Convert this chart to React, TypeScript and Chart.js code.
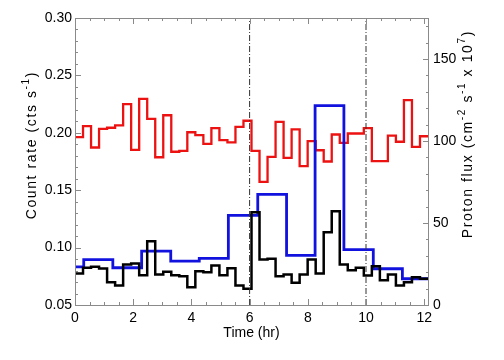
import React, { useEffect, useRef } from 'react';
import { Chart, registerables } from 'chart.js';

Chart.register(...registerables);

// ---- data ----
const X_MAX = 12.13; // hours shown on the time axis
const N_BINS = 44;
const BIN_HR = X_MAX / N_BINS; // uniform bin width of the count-rate light curves

const RED_RATE = [
  0.1962, 0.2058, 0.1872, 0.2035, 0.2044, 0.2064, 0.2249, 0.1852, 0.2296, 0.2122,
  0.1787, 0.2153, 0.1835, 0.1843, 0.2005, 0.1979, 0.1904, 0.2040, 0.1936, 0.1916,
  0.2052, 0.2105, 0.1843, 0.1573, 0.1791, 0.2096, 0.1782, 0.2029, 0.1709, 0.1927,
  0.1848, 0.1750, 0.1985, 0.1913, 0.1994, 0.1994, 0.2040, 0.1753, 0.1753, 0.1976,
  0.1922, 0.2284, 0.1878, 0.1970,
];

const BLACK_RATE = [
  0.0774, 0.0824, 0.0833, 0.0818, 0.0699, 0.0670, 0.0853, 0.0861, 0.0760, 0.1056,
  0.0766, 0.0789, 0.0760, 0.0751, 0.0655, 0.0794, 0.0786, 0.0844, 0.0760, 0.0821,
  0.0670, 0.0641, 0.1308, 0.0896, 0.0902, 0.0751, 0.0766, 0.0693, 0.0766, 0.0896,
  0.0774, 0.1134, 0.1317, 0.0853, 0.0803, 0.0824, 0.0757, 0.0838, 0.0716, 0.0766,
  0.0670, 0.0699, 0.0742, 0.0728,
];

const BLUE_EDGES = [0, 0.30, 1.30, 2.29, 3.29, 4.27, 5.27, 6.28, 7.27, 8.25, 9.24, 10.25, 11.25, 12.13];
const BLUE_FLUX = [23.3, 27.7, 22.7, 32.8, 26.7, 28.4, 54.6, 67.4, 30.2, 121.6, 33.8, 22.1, 16.0];

const MARK_TIMES = [6, 10];

const TIME_TICKS = [0, 2, 4, 6, 8, 10, 12];
const RATE_TICKS = [0.05, 0.10, 0.15, 0.20, 0.25, 0.30];
const FLUX_TICKS = [0, 50, 100, 150];

const RATE_MIN = 0.05;
const RATE_MAX = 0.30;
const FLUX_MIN = 0;
const FLUX_MAX = 175;

type Seg = { t: string; sup?: boolean };
const TIME_TITLE: Seg[] = [{ t: 'Time (hr)' }];
const RATE_TITLE: Seg[] = [{ t: 'Count rate (cts s' }, { t: '-1', sup: true }, { t: ')' }];
const FLUX_TITLE: Seg[] = [
  { t: 'Proton flux (cm' }, { t: '-2', sup: true }, { t: ' s' }, { t: '-1', sup: true },
  { t: ' x 10' }, { t: '7', sup: true }, { t: ')' },
];

// ---- styles ----
const FONT_FAMILY = '"Liberation Sans", Arial, Helvetica, sans-serif';
const AXIS_COLOR = '#8a8a8a';
const RED = 'rgb(236,18,18)';
const BLUE = 'rgb(18,18,222)';
const BLACK = '#000000';

const binSteps = (vals: number[]) => {
  const pts = vals.map((v, i) => ({ x: i * BIN_HR, y: v }));
  pts.push({ x: vals.length * BIN_HR, y: vals[vals.length - 1] });
  return pts;
};

const edgeSteps = (edges: number[], vals: number[]) => {
  const pts = vals.map((v, i) => ({ x: edges[i], y: v }));
  pts.push({ x: edges[edges.length - 1], y: vals[vals.length - 1] });
  return pts;
};

function drawRich(
  ctx: CanvasRenderingContext2D,
  segs: Seg[],
  cx: number,
  cy: number,
  rot: number,
  size: number,
  spacing: number
) {
  ctx.save();
  ctx.translate(cx, cy);
  ctx.rotate(rot);
  ctx.textAlign = 'left';
  ctx.textBaseline = 'middle';
  ctx.fillStyle = '#000';
  const supSize = Math.round(size * 0.68);
  const fontFor = (s: Seg) => `${s.sup ? supSize : size}px ${FONT_FAMILY}`;
  let total = 0;
  const items: { ch: string; w: number; seg: Seg }[] = [];
  segs.forEach((s) => {
    ctx.font = fontFor(s);
    if (spacing === 0) {
      const w = ctx.measureText(s.t).width;
      items.push({ ch: s.t, w, seg: s });
      total += w;
    } else {
      for (const ch of s.t) {
        const w = ctx.measureText(ch).width + spacing;
        items.push({ ch, w, seg: s });
        total += w;
      }
    }
  });
  if (spacing) total -= spacing;
  let x = -total / 2;
  items.forEach((it) => {
    ctx.font = fontFor(it.seg);
    ctx.fillText(it.ch, x, it.seg.sup ? -size * 0.4 : 0);
    x += it.w;
  });
  ctx.restore();
}

const idlAxes = {
  id: 'idlAxes',
  afterDraw(chart: any) {
    const { ctx, chartArea: a, scales } = chart;
    const xs = scales.x;
    const ys = scales.y;
    const y1 = scales.y1;
    ctx.save();
    ctx.strokeStyle = AXIS_COLOR;
    ctx.lineWidth = 1;
    ctx.strokeRect(a.left + 0.5, a.top + 0.5, a.right - a.left, a.bottom - a.top);
    ctx.beginPath();
    const seg = (x1: number, yA: number, x2: number, yB: number) => {
      ctx.moveTo(x1, yA);
      ctx.lineTo(x2, yB);
    };
    // time axis: minor every 0.5 hr, major every 2 hr (bottom and top, inward)
    for (let k = 0; k * 0.5 <= X_MAX + 1e-9; k++) {
      const px = Math.round(xs.getPixelForValue(k * 0.5)) + 0.5;
      const len = k % 4 === 0 ? 6 : 3;
      seg(px, a.bottom, px, a.bottom - len);
      seg(px, a.top, px, a.top + len);
    }
    // left axis: minor 0.01, major 0.05
    for (let k = 0; k <= 25; k++) {
      const py = Math.round(ys.getPixelForValue(RATE_MIN + k * 0.01)) + 0.5;
      const len = k % 5 === 0 ? 6 : 3;
      seg(a.left, py, a.left + len, py);
    }
    // right axis: minor 10, major 50
    for (let k = 0; k * 10 <= FLUX_MAX; k++) {
      const py = Math.round(y1.getPixelForValue(k * 10)) + 0.5;
      const len = k % 5 === 0 ? 6 : 3;
      seg(a.right + 1, py, a.right + 1 - len, py);
    }
    ctx.stroke();
    ctx.restore();

    const midX = (a.left + a.right) / 2;
    drawRich(ctx, TIME_TITLE, midX, a.bottom + 28, 0, 14, 0);
    drawRich(ctx, RATE_TITLE, a.left - 43, a.top + 128, -Math.PI / 2, 14, 1.6);
    drawRich(ctx, FLUX_TITLE, a.right + 40, a.top + 117, -Math.PI / 2, 14, 1.6);
  },
};

export default function App() {
  const ref = useRef<HTMLCanvasElement | null>(null);

  useEffect(() => {
    if (!ref.current) return;
    const font = { family: FONT_FAMILY, size: 14 };
    const stepLine = (data: any[], color: string, width: number, yAxisID: string, order: number) => ({
      data,
      borderColor: color,
      borderWidth: width,
      pointRadius: 0,
      stepped: 'before' as const,
      fill: false,
      yAxisID,
      order,
      borderJoinStyle: 'miter' as const,
      borderCapStyle: 'butt' as const,
    });
    const markLines = MARK_TIMES.map((t) => ({
      data: [
        { x: t, y: RATE_MIN },
        { x: t, y: RATE_MAX },
      ],
      borderColor: '#333',
      borderWidth: 1,
      borderDash: [6, 2, 1, 2],
      pointRadius: 0,
      fill: false,
      yAxisID: 'y',
      order: 0,
    }));

    const chart = new Chart(ref.current, {
      type: 'line',
      data: {
        datasets: [
          ...markLines,
          stepLine(binSteps(BLACK_RATE), BLACK, 2.5, 'y', 1),
          stepLine(edgeSteps(BLUE_EDGES, BLUE_FLUX), BLUE, 2.8, 'y1', 2),
          stepLine(binSteps(RED_RATE), RED, 2.3, 'y', 3),
        ] as any,
      },
      options: {
        animation: false,
        responsive: false,
        devicePixelRatio: 1,
        layout: { padding: { top: 18, left: 0, right: 0, bottom: 0 } },
        plugins: { legend: { display: false }, tooltip: { enabled: false } },
        scales: {
          x: {
            type: 'linear',
            min: 0,
            max: X_MAX,
            afterBuildTicks: (s: any) => {
              s.ticks = TIME_TICKS.map((v) => ({ value: v }));
            },
            afterFit: (s: any) => {
              s.height = 55;
            },
            grid: { display: false, drawTicks: false },
            border: { display: false },
            ticks: {
              padding: 5,
              color: '#000',
              font,
              autoSkip: false,
              maxRotation: 0,
              callback: (v: any) => String(v),
            },
          },
          y: {
            type: 'linear',
            position: 'left',
            min: RATE_MIN,
            max: RATE_MAX,
            afterBuildTicks: (s: any) => {
              s.ticks = RATE_TICKS.map((v) => ({ value: v }));
            },
            afterFit: (s: any) => {
              s.width = 75;
            },
            grid: { display: false, drawTicks: false },
            border: { display: false },
            ticks: {
              padding: 3,
              color: '#000',
              font,
              autoSkip: false,
              callback: (v: any) => Number(v).toFixed(2),
            },
          },
          y1: {
            type: 'linear',
            position: 'right',
            min: FLUX_MIN,
            max: FLUX_MAX,
            afterBuildTicks: (s: any) => {
              s.ticks = FLUX_TICKS.map((v) => ({ value: v }));
            },
            afterFit: (s: any) => {
              s.width = 76;
            },
            grid: { display: false, drawTicks: false },
            border: { display: false },
            ticks: {
              padding: 5,
              color: '#000',
              font,
              autoSkip: false,
              callback: (v: any) => String(v),
            },
          },
        },
      } as any,
      plugins: [idlAxes],
    });
    return () => chart.destroy();
  }, []);

  return (
    <canvas
      ref={ref}
      width={504}
      height={360}
      style={{ position: 'fixed', left: 0, top: 0, width: 504, height: 360, background: '#fff' }}
    />
  );
}
